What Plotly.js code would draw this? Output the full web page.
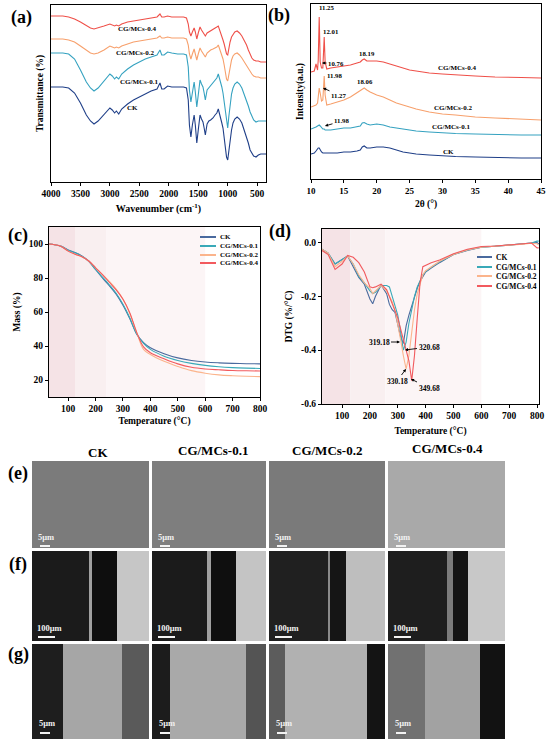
<!DOCTYPE html>
<html><head><meta charset="utf-8">
<script src="https://cdn.plot.ly/plotly-3.0.1.min.js"></script>
<style>html,body{margin:0;padding:0;background:#fff}#chart{width:550px;height:744px}</style>
</head><body><div id="chart"></div>
<script>
// ---------------- DATA ----------------
const seriesNames = ['CK','CG/MCs-0.1','CG/MCs-0.2','CG/MCs-0.4'];

// (a) FTIR, transmittance in arbitrary units (curves offset as in the figure)
const ftirWavenumber = [4000,3900,3800,3700,3600,3500,3400,3330,3270,3200,3100,3000,2960,2920,2890,2850,2800,2700,2600,2500,2400,2300,2200,2150,2120,2080,2020,1950,1850,1750,1700,1670,1650,1625,1600,1570,1550,1525,1500,1470,1445,1420,1400,1380,1350,1320,1290,1250,1215,1185,1160,1140,1120,1100,1080,1060,1040,1020,1000,980,960,935,910,880,840,800,760,720,680,650,620,590,560,520,480,440,400,350];
const ftirCK  = [95,95,95,94,89,79,67,61,58,61,68,74,72,69,71,68,73,78,82,85,88,91,93,99,93,93,96,95,95,95,94,82,57,45,57,67,57,39,52,67,63,60,54,47,58,61,62,64,67,69,73,69,65,59,54,45,34,25,22,32,42,52,59,63,65,63,59,52,45,39,32,29,26,25,27,28,28,28];
const ftirM01 = [129,129,129,128,123,112,100,94,91,94,101,108,106,103,105,103,108,113,117,120,123,125,127,132,127,127,130,129,128,128,127,115,92,80,90,100,90,75,87,102,98,95,89,82,92,94,96,99,102,104,108,104,100,95,89,80,68,58,54,66,78,88,94,98,100,98,94,88,82,76,70,66,62,60,61,61,61,61];
const ftirM02 = [143,143,143,142,140,136,132,129,128,129,132,136,135,134,135,134,136,138,140,141,142,143,144,146,144,144,145,144,144,144,143,137,128,123,128,133,128,122,128,134,131,129,127,125,129,131,132,133,134,135,137,134,131,127,123,117,109,103,101,108,116,122,126,128,129,127,124,120,116,113,110,108,106,105,105,104,104,104];
const ftirM04 = [166,166,166,165,163,160,156,154,153,154,156,158,157,156,157,156,158,160,161,162,163,164,165,168,165,165,166,165,165,165,164,158,150,146,150,154,150,143,149,155,152,150,148,146,149,150,151,152,154,155,156,153,150,146,142,138,132,128,127,134,140,145,148,150,151,149,146,142,137,132,127,124,122,121,121,120,120,120];
const ftirTicks = [4000,3500,3000,2500,2000,1500,1000,500];

// (b) XRD, intensity in arbitrary units (offset)
const xrdTheta = [10,10.5,10.76,11.0,11.1,11.25,11.4,11.6,11.8,11.9,12.01,12.15,12.4,13,14,15,16,17,17.5,17.8,18.1,18.5,19,20,21,22,23,24,25,26,28,30,32,35,38,40,42,45];
const xrdCK  = [25,26,28,30,31,31,29,27,26,26,26,26,26,26,26,27,27,28,29,32,33,31,31,32,32,31,29,27,26,25,24,23,22.5,22,21.5,21,21,21];
const xrdM01 = [50,51,52,53,53.5,54,53,51,50,50,50,49,49,49,50,51,51,52,53,56,56.5,55,54,55,54,52,51,50,49,48,47,46,45.5,45,44.5,44,44,44];
const xrdM02 = [72,73,74,76,84,91,86,78,79,94,103,84,74,75,77,79,82,86,88,90,91,89,87,84,82,79,76,74,72,70,67,65,64,62,61,60.5,60,59];
const xrdM04 = [107,108,115,109,119,162,117,111,111,124,142,117,110,111,112,113,114,116,117,119,120,118,118,118,117,115,113,111,109,108,106,105,104,103,102,102,101.5,101];
const xrdTicks = [10,15,20,25,30,35,40,45];

// (c) TGA, mass %
const tgaTemp = [30,50,75,100,125,150,175,200,225,250,275,300,325,350,375,400,450,500,550,600,650,700,750,800];
const tgaCK  = [100,99.6,98.6,96.5,95,93,90,85,80,75.5,70.5,64,56,47,42,39,35.5,33,31.5,30.6,30.1,29.8,29.6,29.5];
const tgaM01 = [100,99.6,98.6,96.3,94.8,92.8,89.8,85,80.5,76,71,64.5,56.5,47,41.5,38,34,31.5,29.8,28.6,27.8,27.3,27,26.8];
const tgaM02 = [100,99.6,98.5,95.8,94,92.5,90,86,82,78,73.5,67.5,59,48,38,35,31,28,25.5,24,23,22.5,22.2,22];
const tgaM04 = [100,99.6,98.5,95.8,94,92.5,90,86,82,77.5,73,67.5,59.5,48,39.5,36,32.5,29.5,27.5,26.5,26,25.6,25.4,25.3];
const tempTicks = [100,200,300,400,500,600,700,800];
const massTicks = [20,40,60,80,100];

// (d) DTG, %/°C
const dtgTemp = [28,50,75,100,120,140,160,180,200,210,220,240,260,270,280,290,300,310,320,330,340,350,360,370,380,390,400,420,450,500,550,600,650,700,750,780,800,806];
const dtgCK  = [-0.025,-0.04,-0.08,-0.065,-0.05,-0.09,-0.13,-0.155,-0.21,-0.228,-0.2,-0.158,-0.19,-0.23,-0.25,-0.26,-0.3,-0.35,-0.375,-0.31,-0.27,-0.235,-0.2,-0.17,-0.145,-0.125,-0.11,-0.095,-0.075,-0.045,-0.03,-0.018,-0.015,-0.01,-0.005,-0.003,0.0,-0.005];
const dtgM01 = [-0.025,-0.04,-0.08,-0.065,-0.05,-0.08,-0.125,-0.15,-0.18,-0.19,-0.185,-0.16,-0.16,-0.165,-0.2,-0.24,-0.27,-0.33,-0.40,-0.37,-0.3,-0.25,-0.2,-0.165,-0.14,-0.12,-0.108,-0.092,-0.072,-0.045,-0.028,-0.018,-0.014,-0.01,-0.006,-0.002,0.005,0.005];
const dtgM02 = [-0.025,-0.04,-0.09,-0.07,-0.05,-0.08,-0.12,-0.15,-0.17,-0.19,-0.18,-0.16,-0.18,-0.2,-0.22,-0.25,-0.3,-0.36,-0.42,-0.47,-0.42,-0.33,-0.25,-0.19,-0.15,-0.12,-0.105,-0.09,-0.07,-0.045,-0.028,-0.018,-0.013,-0.01,-0.006,-0.003,-0.005,-0.01];
const dtgM04 = [-0.03,-0.045,-0.1,-0.08,-0.048,-0.055,-0.075,-0.11,-0.165,-0.168,-0.165,-0.155,-0.175,-0.2,-0.225,-0.25,-0.28,-0.32,-0.36,-0.40,-0.44,-0.513,-0.42,-0.28,-0.15,-0.09,-0.085,-0.075,-0.065,-0.042,-0.025,-0.015,-0.013,-0.01,-0.005,-0.002,-0.02,-0.02];
const dtgTicks = [-0.6,-0.4,-0.2,0.0];
const dtgTickText = ['-0.6','-0.4','-0.2','0.0'];

// peak labels
const xrdPeakLabels = ['11.25','12.01','10.76','18.19','11.98','11.27','18.06','11.98'];
const dtgPeakLabels = ['319.18','320.68','330.18','349.68'];

// ---------------- STYLE / LAYOUT ----------------
const W = 550, H = 744;
const px = x => x / W, py = y => 1 - y / H;
const FONT = 'Liberation Serif, "Times New Roman", serif';
const colA = ['#1f3f88','#35a2c0','#f7a06c','#ef5049'];
const colC = ['#4a6a9e','#3aa9b8','#fbb48c','#f25a5e'];
const lw = 1.1;
const bf = (s, c) => ({family: FONT, size: s, color: c || '#000', weight: 'bold'});

const traces = [];
[ftirCK, ftirM01, ftirM02, ftirM04].forEach((v, i) => traces.push({x: ftirWavenumber, y: v, type: 'scatter', mode: 'lines', name: seriesNames[i], line: {color: colA[i], width: lw}, xaxis: 'x', yaxis: 'y', showlegend: false}));
[xrdCK, xrdM01, xrdM02, xrdM04].forEach((v, i) => traces.push({x: xrdTheta, y: v, type: 'scatter', mode: 'lines', name: seriesNames[i], line: {color: colA[i], width: lw}, xaxis: 'x2', yaxis: 'y2', showlegend: false}));
[tgaCK, tgaM01, tgaM02, tgaM04].forEach((v, i) => traces.push({x: tgaTemp, y: v, type: 'scatter', mode: 'lines', name: seriesNames[i], line: {color: colC[i], width: lw, shape: 'spline'}, xaxis: 'x3', yaxis: 'y3', showlegend: false}));
[dtgCK, dtgM01, dtgM02, dtgM04].forEach((v, i) => traces.push({x: dtgTemp, y: v, type: 'scatter', mode: 'lines', name: seriesNames[i], line: {color: colC[i], width: lw}, xaxis: 'x4', yaxis: 'y4', showlegend: false}));

const axBase = {showline: true, mirror: true, linecolor: '#000', linewidth: 1, showgrid: false, zeroline: false, ticks: 'outside', ticklen: 3, tickcolor: '#000', tickwidth: 1};

const layout = {
  width: W, height: H, margin: {l: 0, r: 0, t: 0, b: 0},
  paper_bgcolor: '#fff', plot_bgcolor: 'rgba(0,0,0,0)', showlegend: false,
  xaxis: Object.assign({}, axBase, {domain: [px(51), px(266)], range: [4000, 350], anchor: 'y', tickvals: ftirTicks, tickfont: bf(9.5), title: {text: 'Wavenumber (cm<sup>-1</sup>)', font: bf(10), standoff: 6}}),
  yaxis: Object.assign({}, axBase, {domain: [py(182), py(5)], range: [0, 177], anchor: 'x', ticks: '', showticklabels: false, title: {text: 'Transmittance (%)', font: bf(9.5), standoff: 4}}),
  xaxis2: Object.assign({}, axBase, {domain: [px(311), px(541)], range: [10, 45], anchor: 'y2', tickvals: xrdTicks, tickfont: bf(9), title: {text: '2θ (°)', font: bf(9.5), standoff: 5}}),
  yaxis2: Object.assign({}, axBase, {domain: [py(179), py(4)], range: [0, 175], anchor: 'x2', ticks: '', showticklabels: false, title: {text: 'Intensity(a.u.)', font: bf(9.5), standoff: 4}}),
  xaxis3: Object.assign({}, axBase, {domain: [px(49), px(260)], range: [30, 800], anchor: 'y3', tickvals: tempTicks, tickfont: bf(9.5), title: {text: 'Temperature (°C)', font: bf(9.5), standoff: 3}}),
  yaxis3: Object.assign({}, axBase, {domain: [py(397), py(227)], range: [10, 110], anchor: 'x3', tickvals: massTicks, tickfont: bf(9.5), title: {text: 'Mass (%)', font: bf(9.5), standoff: 6}}),
  xaxis4: Object.assign({}, axBase, {domain: [px(322), px(539)], range: [28, 807], anchor: 'y4', tickvals: tempTicks, tickfont: bf(9.5), title: {text: 'Temperature (°C)', font: bf(9.5), standoff: 6}}),
  yaxis4: Object.assign({}, axBase, {domain: [py(404), py(229)], range: [-0.6, 0.05], anchor: 'x4', tickvals: dtgTicks, ticktext: dtgTickText, tickfont: bf(9.5), title: {text: 'DTG (%/°C)', font: bf(9.5), standoff: 6}}),
  shapes: [], annotations: []
};

// shaded temperature stages
const shadeC = [[30,125,'#f5e3e6'],[125,240,'#f9eff0'],[240,600,'#fcf5f6']];
const shadeD = [[28,130,'#f5e3e6'],[130,255,'#f9eff0'],[255,600,'#fcf5f6']];
shadeC.forEach(s => layout.shapes.push({type: 'rect', xref: 'x3', yref: 'y3 domain', x0: s[0], x1: s[1], y0: 0, y1: 1, fillcolor: s[2], line: {width: 0}, layer: 'below'}));
shadeD.forEach(s => layout.shapes.push({type: 'rect', xref: 'x4', yref: 'y4 domain', x0: s[0], x1: s[1], y0: 0, y1: 1, fillcolor: s[2], line: {width: 0}, layer: 'below'}));

const ann = (text, x, y, size, opts) => layout.annotations.push(Object.assign({text: text, x: px(x), y: py(y), xref: 'paper', yref: 'paper', showarrow: false, font: bf(size), xanchor: 'center', yanchor: 'middle'}, opts || {}));
// label with an arrow: text centred at (x,y), arrow tip at (tx,ty)
const annArrow = (text, x, y, tx, ty, size) => layout.annotations.push({text: text, x: px(tx), y: py(ty), xref: 'paper', yref: 'paper', showarrow: true, ax: x - tx, ay: y - ty, arrowhead: 2, arrowsize: 0.7, arrowwidth: 0.9, arrowcolor: '#000', standoff: 0, font: bf(size)});

// panel letters
[['(a)',21,18],['(b)',279,16],['(c)',18,235],['(d)',280,231],['(e)',18,473],['(f)',18,564],['(g)',18,654]].forEach(p => ann(p[0], p[1], p[2], 18));

// (a) series labels
ann(seriesNames[3], 137, 29, 7); ann(seriesNames[2], 135, 53, 7); ann(seriesNames[1], 139, 82, 7); ann(seriesNames[0], 132, 108, 7);
// (b) series labels
ann(seriesNames[3], 457, 68, 7); ann(seriesNames[2], 453, 108, 7); ann(seriesNames[1], 451, 127, 7); ann(seriesNames[0], 448, 152, 7);
// (b) peak labels
ann(xrdPeakLabels[0], 327, 8, 6.8);
ann(xrdPeakLabels[1], 331, 32, 6.8);
annArrow(xrdPeakLabels[2], 336, 63, 322, 63, 6.8);
ann(xrdPeakLabels[3], 367, 53, 6.8);
ann(xrdPeakLabels[4], 335, 75, 6.8);
annArrow(xrdPeakLabels[5], 339, 95, 323, 88, 6.8);
ann(xrdPeakLabels[6], 365, 81, 6.8);
annArrow(xrdPeakLabels[7], 342, 121, 325, 126, 6.8);

// (d) peak labels
annArrow(dtgPeakLabels[0], 379, 342, 400, 342, 7.5);
annArrow(dtgPeakLabels[1], 429, 347, 405, 350, 7.5);
annArrow(dtgPeakLabels[2], 397, 381, 406, 369, 7.5);
annArrow(dtgPeakLabels[3], 429, 388, 411, 379, 7.5);

// manual legends
const legC = {x0: 200, x1: 216, tx: 218, ys: [237,246,255,263], size: 7};
const legD = {x0: 477, x1: 492, tx: 494, ys: [257,267,276,286], size: 7.5};
[legC, legD].forEach(L => L.ys.forEach((y, i) => {
  layout.shapes.push({type: 'line', xref: 'paper', yref: 'paper', x0: px(L.x0), x1: px(L.x1), y0: py(y), y1: py(y), line: {color: colC[i], width: 2}});
  ann(seriesNames[i], L.tx, y, L.size, {xanchor: 'left'});
}));

// (e)-(g) SEM micrograph panels (greyscale blocks)
const colsX = [[32,149],[152,266],[269,385],[388,505]];
const rowE = [461,548], rowF = [551,641], rowG = [644,739];
const semE = ['#7b7b7b','#7e7e7e','#7a7a7a','#a9a9a9'];
const semF = [
  [[0,57,'#1b1b1b'],[57,60,'#a0a0a0'],[60,85,'#0e0e0e'],[85,117,'#c6c6c6']],
  [[0,55,'#1b1b1b'],[55,59,'#a0a0a0'],[59,84,'#0f0f0f'],[84,114,'#c4c4c4']],
  [[0,59,'#202020'],[59,61,'#8a8a8a'],[61,77,'#151515'],[77,116,'#bebebe']],
  [[0,59,'#1e1e1e'],[59,65,'#7c7c7c'],[65,80,'#141414'],[80,117,'#c8c8c8']]
];
const semG = [
  [[0,31,'#1e1e1e'],[31,90,'#a6a6a6'],[90,117,'#5a5a5a']],
  [[0,18,'#1c1c1c'],[18,94,'#a9a9a9'],[94,114,'#545454']],
  [[0,16,'#5c5c5c'],[16,98,'#b1b1b1'],[98,116,'#141414']],
  [[0,37,'#717171'],[37,92,'#a2a2a2'],[92,117,'#121212']]
];
const rect = (x0, y0, x1, y1, c) => layout.shapes.push({type: 'rect', xref: 'paper', yref: 'paper', x0: px(x0), x1: px(x1), y0: py(y1), y1: py(y0), fillcolor: c, line: {width: 0}, layer: 'above'});
colsX.forEach((cx, j) => {
  rect(cx[0], rowE[0], cx[1], rowE[1], semE[j]);
  semF[j].forEach(s => rect(cx[0] + s[0], rowF[0], Math.min(cx[0] + s[1], cx[1]), rowF[1], s[2]));
  semG[j].forEach(s => rect(cx[0] + s[0], rowG[0], Math.min(cx[0] + s[1], cx[1]), rowG[1], s[2]));
  // scale bars
  ann('5μm', cx[0] + 14, 537, 8.5, {font: bf(8.5, '#f2f2f2')});
  rect(cx[0] + 8, 545, cx[0] + 18, 547, '#f2f2f2');
  ann('100μm', cx[0] + 17, 628, 8.5, {font: bf(8.5, '#f2f2f2')});
  rect(cx[0] + 6, 636, cx[0] + 23, 638, '#f2f2f2');
  ann('5μm', cx[0] + 15, 723, 8.5, {font: bf(8.5, '#f2f2f2')});
  rect(cx[0] + 8, 732, cx[0] + 18, 734, '#f2f2f2');
});
// column headers
[[98,452],[213,450],[327,450],[447,448]].forEach((p, i) => ann(seriesNames[i], p[0], p[1], 13));

Plotly.newPlot('chart', traces, layout, {displayModeBar: false, staticPlot: true});
</script></body></html>
